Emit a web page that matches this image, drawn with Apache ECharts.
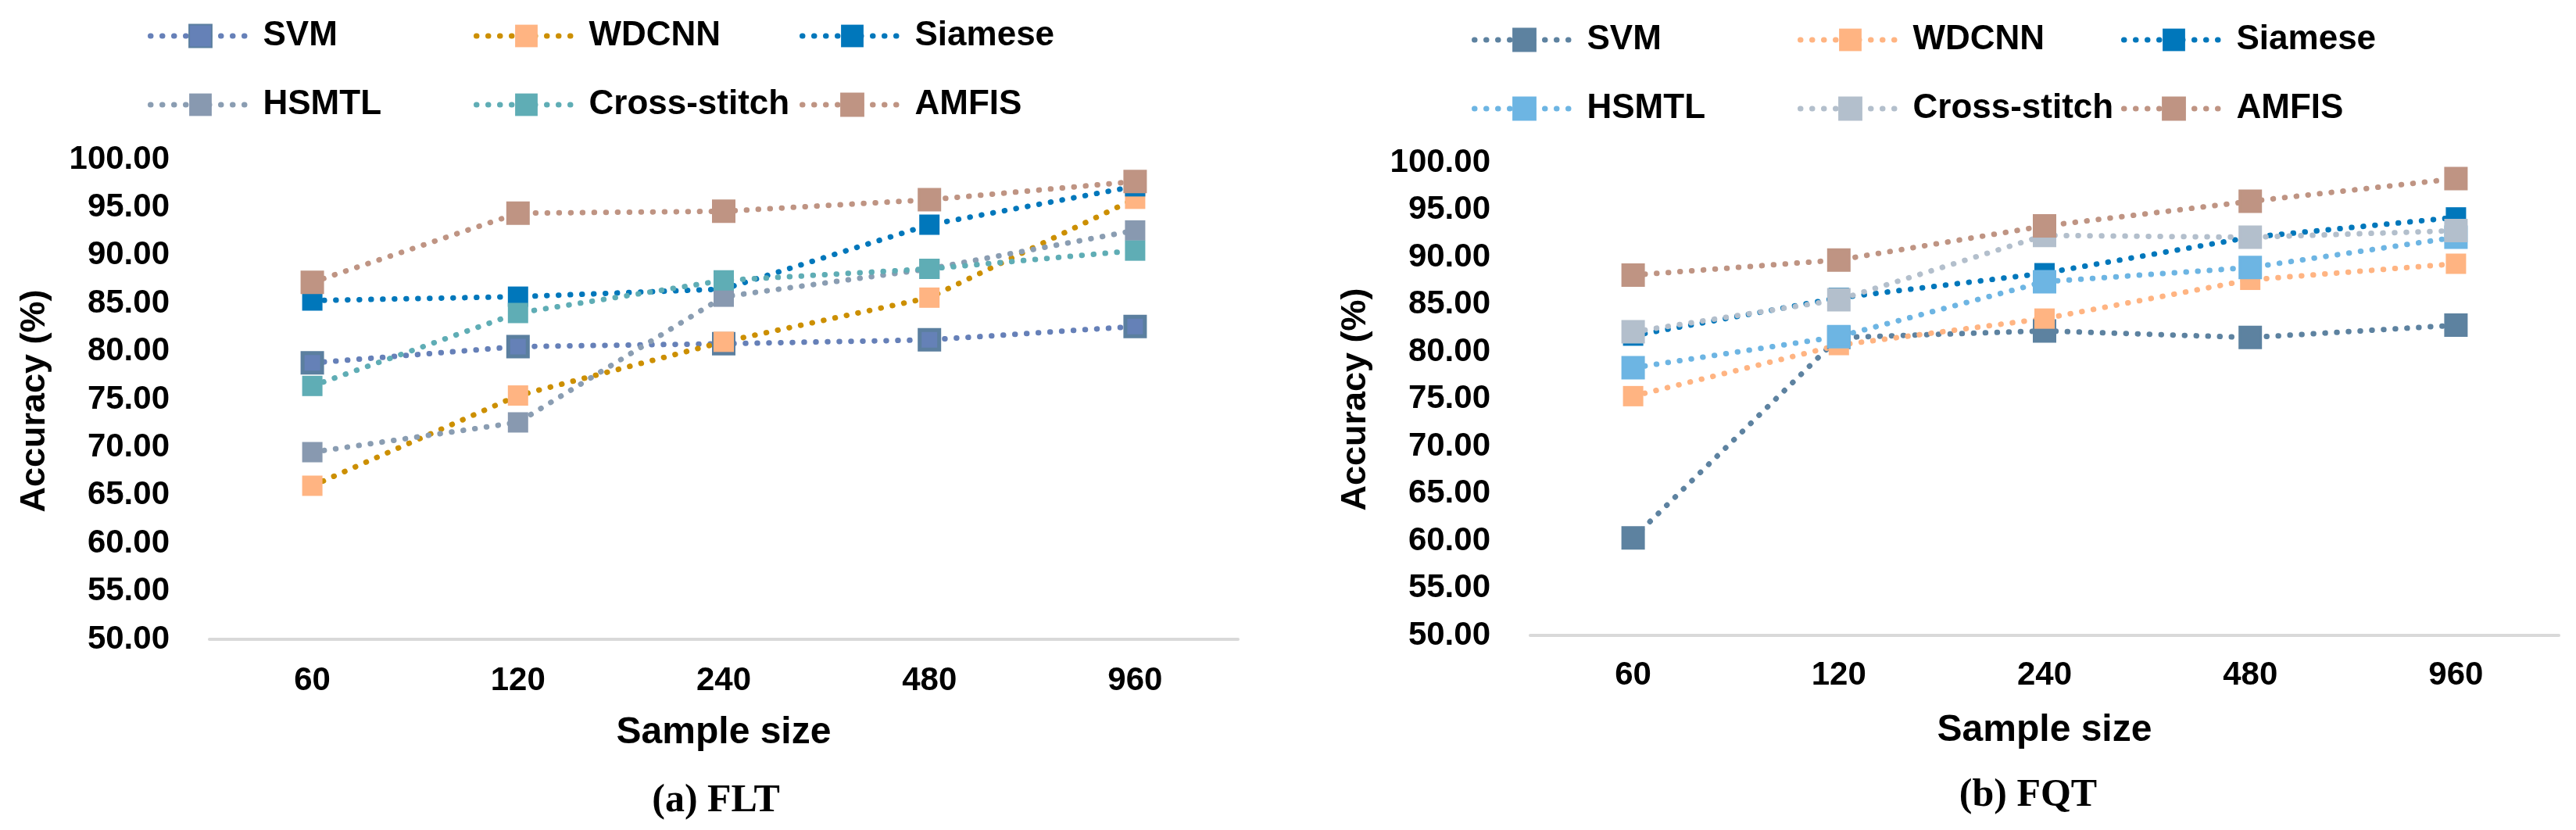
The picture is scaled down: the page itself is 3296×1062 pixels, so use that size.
<!DOCTYPE html>
<html>
<head>
<meta charset="utf-8">
<script src="https://cdn.jsdelivr.net/npm/echarts@6/dist/echarts.min.js"></script>
<style>
html,body{margin:0;padding:0;background:#fff;}
#wrap{width:3296px;height:1062px;display:flex;}
.c{width:1648px;height:1062px;}
</style>
</head>
<body>
<div id="wrap"><div id="a" class="c"></div><div id="b" class="c"></div></div>
<script>
const categories = ['60', '120', '240', '480', '960'];
const seriesNames = ['SVM', 'WDCNN', 'Siamese', 'HSMTL', 'Cross-stitch', 'AMFIS'];
const yTicks = { min: 50, max: 100, interval: 5 };

// (a) FLT
const fltSVM = [78.8, 80.5, 80.8, 81.2, 82.6];
const fltWDCNN = [66.0, 75.4, 81.0, 85.6, 95.9];
const fltSiamese = [85.3, 85.7, 86.5, 93.2, 97.2];
const fltHSMTL = [69.5, 72.6, 85.7, 88.6, 92.6];
const fltCross = [76.4, 84.0, 87.4, 88.6, 90.5];
const fltAMFIS = [87.2, 94.4, 94.6, 95.8, 97.7];

// (b) FQT
const fqtSVM = [60.3, 81.5, 82.2, 81.5, 82.8];
const fqtWDCNN = [75.3, 80.7, 83.5, 87.6, 89.3];
const fqtSiamese = [81.7, 85.7, 88.3, 92.1, 94.2];
const fqtHSMTL = [78.3, 81.6, 87.4, 88.9, 92.1];
const fqtCross = [82.1, 85.5, 92.3, 92.1, 92.8];
const fqtAMFIS = [88.1, 89.7, 93.3, 95.9, 98.3];

const FONT = 'Liberation Sans';
const DOT = [0.5, 14.5];

function mkSeries(name, data, line, fill, border, bw, size) {
  return {
    name: name, type: 'line', data: data,
    symbol: 'rect', symbolSize: size,
    lineStyle: { color: line, width: 7, type: DOT, cap: 'round' },
    itemStyle: { color: fill, borderColor: border, borderWidth: bw },
    emphasis: { disabled: true },
    animation: false
  };
}

function mkOption(cfg) {
  const legendBase = {
    orient: 'vertical', itemWidth: 128, itemHeight: 36, itemGap: 44,
    selectedMode: false,
    lineStyle: { width: 7, type: DOT, cap: 'round' },
    textStyle: { fontSize: 44, fontWeight: 'bold', color: '#000', fontFamily: FONT, padding: [0, 0, 0, 11] }
  };
  return {
    backgroundColor: '#fff',
    animation: false,
    legend: [
      Object.assign({}, legendBase, { data: [seriesNames[0], seriesNames[3]], left: cfg.legX[0], top: cfg.legTop }),
      Object.assign({}, legendBase, { data: [seriesNames[1], seriesNames[4]], left: cfg.legX[1], top: cfg.legTop }),
      Object.assign({}, legendBase, { data: [seriesNames[2], seriesNames[5]], left: cfg.legX[2], top: cfg.legTop })
    ],
    grid: { left: cfg.grid[0], right: cfg.grid[1], top: cfg.grid[2], bottom: cfg.grid[3], containLabel: false },
    xAxis: {
      type: 'category', data: categories, boundaryGap: true,
      axisLine: { show: true, lineStyle: { color: '#d9d9d9', width: 4 } },
      axisTick: { show: false },
      axisLabel: { fontSize: 42, fontWeight: 'bold', color: '#000', fontFamily: FONT, margin: cfg.xLabelMargin },
      splitLine: { show: false },
      name: 'Sample size', nameLocation: 'middle', nameGap: cfg.xNameGap,
      nameTextStyle: { fontSize: 48, fontWeight: 'bold', color: '#000', fontFamily: FONT }
    },
    yAxis: {
      type: 'value', min: yTicks.min, max: yTicks.max, interval: yTicks.interval,
      axisLine: { show: false }, axisTick: { show: false }, splitLine: { show: false },
      axisLabel: { fontSize: 42, fontWeight: 'bold', color: '#000', fontFamily: FONT, margin: cfg.yLabelMargin,
        formatter: v => v.toFixed(2) }
    },
    graphic: [{
      type: 'text', x: cfg.yTitle[0], y: cfg.yTitle[1], rotation: Math.PI / 2,
      style: { text: 'Accuracy (%)', fontSize: 45, fontWeight: 'bold', fontFamily: FONT, fill: '#000', align: 'center', verticalAlign: 'middle' }
    }, {
      type: 'text', x: cfg.cap[0], y: cfg.cap[1],
      style: { text: cfg.caption, fontSize: 50, fontWeight: 'bold', fontFamily: 'Liberation Serif', fill: '#000', align: 'center', verticalAlign: 'middle' }
    }],
    series: cfg.series
  };
}

const chartA = echarts.init(document.getElementById('a'), null, { renderer: 'canvas' });
chartA.setOption(mkOption({
  legX: [184, 601, 1018], legTop: 19,
  grid: [268, 64, 204, 244],
  xLabelMargin: 32, xNameGap: 96, yLabelMargin: 51,
  yTitle: [45, 513],
  caption: '(a) FLT', cap: [916, 1025],
  series: [
    mkSeries('SVM', fltSVM, '#6680b8', '#6581b7', '#5b7f9f', 5, 25),
    mkSeries('WDCNN', fltWDCNN, '#cc8f00', '#ffb482', '#ffb482', 0, 26),
    mkSeries('Siamese', fltSiamese, '#0077bb', '#0077bb', '#0077bb', 0, 26),
    mkSeries('HSMTL', fltHSMTL, '#8a9db2', '#8899b0', '#8899b0', 0, 26),
    mkSeries('Cross-stitch', fltCross, '#5fadb5', '#5fadb5', '#5fadb5', 0, 26),
    mkSeries('AMFIS', fltAMFIS, '#bf9483', '#bf9483', '#bf9483', 3, 27)
  ]
}));

const chartB = echarts.init(document.getElementById('b'), null, { renderer: 'canvas' });
chartB.setOption(mkOption({
  legX: [230, 647, 1061], legTop: 24,
  grid: [310, 22, 208, 249],
  xLabelMargin: 30, xNameGap: 98, yLabelMargin: 51,
  yTitle: [87, 511],
  caption: '(b) FQT', cap: [947, 1018],
  series: [
    mkSeries('SVM', fqtSVM, '#5d82a0', '#5d82a0', '#5d82a0', 3, 27),
    mkSeries('WDCNN', fqtWDCNN, '#ffb482', '#ffb482', '#ffb482', 0, 26),
    mkSeries('Siamese', fqtSiamese, '#0077bb', '#0077bb', '#0077bb', 0, 26),
    mkSeries('HSMTL', fqtHSMTL, '#6db5e3', '#6db5e3', '#6db5e3', 3, 27),
    mkSeries('Cross-stitch', fqtCross, '#b3bfcc', '#b3bfcc', '#b3bfcc', 3, 27),
    mkSeries('AMFIS', fqtAMFIS, '#bf9483', '#bf9483', '#bf9483', 3, 27)
  ]
}));
</script>
</body>
</html>
